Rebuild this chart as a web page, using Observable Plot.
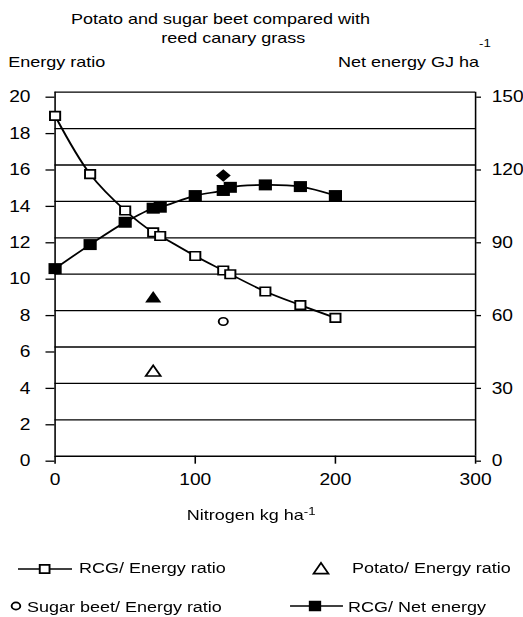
<!DOCTYPE html>
<html><head><meta charset="utf-8">
<script src="https://cdn.jsdelivr.net/npm/d3@7"></script>
<script src="https://cdn.jsdelivr.net/npm/@observablehq/plot@0.6"></script>
<style>
html,body{margin:0;padding:0;background:#fff;overflow:hidden;}
#wrap{position:relative;width:435.83px;height:617px;transform:scaleX(1.2);transform-origin:0 0;font-family:"Liberation Sans",Arial,sans-serif;color:#000;}
#wrap svg{position:absolute;left:0;}
.t{position:absolute;white-space:nowrap;line-height:1;font-size:15px;}
</style></head><body>
<div id="wrap"></div>
<script>
// ---- data ----
const nitrogen = [0, 25, 50, 70, 75, 100, 120, 125, 150, 175, 200];
const rcgEnergyRatio = [18.7, 15.5, 13.5, 12.3, 12.1, 11.0, 10.2, 10.0, 9.05, 8.3, 7.6];
const rcgNetEnergy = [77.3, 87.2, 96.4, 102.2, 102.6, 107.4, 109.5, 110.8, 111.8, 111.1, 107.4];
const potatoNitrogen = [70];
const potatoEnergyRatio = [4.6];
const potatoNetEnergy = [64.9];
const sugarBeetNitrogen = [120];
const sugarBeetEnergyRatio = [7.4];
const sugarBeetNetEnergy = [115.7];
const leftTicks = [0, 2, 4, 6, 8, 10, 12, 14, 16, 18, 20];
const rightTicks = [0, 30, 60, 90, 120, 150];
const xTicks = [0, 100, 200, 300];
const rightMax = 150, leftMax = 20;
const k = rightMax / leftMax; // net energy units per energy-ratio unit

const rcg = nitrogen.map((n, i) => ({n, ratio: rcgEnergyRatio[i], net: rcgNetEnergy[i]}));
const potato = potatoNitrogen.map((n, i) => ({n, ratio: potatoEnergyRatio[i], net: potatoNetEnergy[i]}));
const beet = sugarBeetNitrogen.map((n, i) => ({n, ratio: sugarBeetEnergyRatio[i], net: sugarBeetNetEnergy[i]}));

const wrap = document.getElementById("wrap");
const FONT = '"Liberation Sans", Arial, sans-serif';

const chart = Plot.plot({
  width: 435.83,
  height: 500,
  marginTop: 91.7,
  marginBottom: 44.3,
  marginLeft: 45.4,
  marginRight: 40,
  style: {fontFamily: FONT, fontSize: "16px", color: "#000", background: "white"},
  x: {domain: [0, 300]},
  y: {domain: [0, leftMax]},
  marks: [
    Plot.ruleY(leftTicks.filter(d => d > 0), {stroke: "#000", strokeWidth: 1.3}),
    Plot.ruleY([0], {stroke: "#000", strokeWidth: 1.4}),
    Plot.ruleX([0, 300], {stroke: "#000", strokeWidth: 1.3}),
    Plot.axisY(leftTicks, {anchor: "left", tickSize: 7.5, tickPadding: 13, dy: 5, label: null, fontSize: 16, strokeWidth: 1.3}),
    Plot.axisY(rightTicks.map(v => v / k), {anchor: "right", tickSize: 4, tickPadding: 9.4, dy: 5, label: null, tickFormat: d => Math.round(d * k), fontSize: 16, strokeWidth: 1.3}),
    Plot.axisX(xTicks, {anchor: "bottom", tickSize: 8, tickPadding: 9.3, label: null, fontSize: 16, strokeWidth: 1.3}),
    Plot.line(rcg, {x: "n", y: "ratio", curve: "catmull-rom", stroke: "#000", strokeWidth: 1.7}),
    Plot.line(rcg, {x: "n", y: d => d.net / k, curve: "catmull-rom", stroke: "#000", strokeWidth: 1.7}),
    Plot.dot(rcg, {x: "n", y: "ratio", symbol: "square", r: 4.8, fill: "white", stroke: "#000", strokeWidth: 1.6}),
    Plot.dot(rcg, {x: "n", y: d => d.net / k, symbol: "square", r: 6.2, fill: "#000", stroke: "none"}),
    Plot.dot(potato, {x: "n", y: "ratio", symbol: "triangle", r: 4.6, fill: "white", stroke: "#000", strokeWidth: 1.6}),
    Plot.dot(potato, {x: "n", y: d => d.net / k, symbol: "triangle", r: 5.0, fill: "#000", stroke: "none"}),
    Plot.dot(beet, {x: "n", y: "ratio", symbol: "circle", r: 3.8, fill: "white", stroke: "#000", strokeWidth: 1.6}),
    Plot.dot(beet, {x: "n", y: d => d.net / k, symbol: "diamond2", r: 5.6, fill: "#000", stroke: "none"})
  ]
});
chart.style.top = "0px";
wrap.appendChild(chart);

function addText(html, x, baseline, fs = 15, anchor = "start") {
  const d = document.createElement("div");
  d.className = "t";
  d.style.fontSize = fs + "px";
  d.style.top = (baseline - 0.8465 * fs) + "px";
  d.style.left = x + "px";
  if (anchor === "middle") d.style.transform = "translateX(-50%)";
  if (anchor === "end") d.style.transform = "translateX(-100%)";
  d.innerHTML = html;
  wrap.appendChild(d);
}
addText("Potato and sugar beet compared with", 183.75, 24, 15, "middle");
addText("reed canary grass", 194.4, 42.4, 15, "middle");
addText("Energy ratio", 6.9, 66.4, 15);
addText('Net energy GJ ha<span style="font-size:11px;position:relative;top:-20px">-1</span>', 281.7, 66.4, 15);
addText('Nitrogen kg ha<span style="font-size:11px;position:relative;top:-5px">-1</span>', 155.6, 520, 15);

// ---- legend ----
const leg = d3.create("svg").attr("width", 435.83).attr("height", 72)
  .style("top", "545px").style("font-family", FONT).style("font-size", "15px");
const sym = (type, r) => d3.symbol(type, r * r * Math.PI)();
function swatchLine(x1, x2, y) {
  leg.append("line").attr("x1", x1).attr("x2", x2).attr("y1", y).attr("y2", y)
    .attr("stroke", "#000").attr("stroke-width", 1.7);
}
function swatchSym(type, r, x, y, filled) {
  leg.append("path").attr("d", sym(type, r)).attr("transform", `translate(${x},${y})`)
    .attr("fill", filled ? "#000" : "white").attr("stroke", filled ? "none" : "#000").attr("stroke-width", 1.6);
}
function label(txt, x, y) { leg.append("text").attr("x", x).attr("y", y).text(txt); }
swatchLine(15, 60, 24); swatchSym(d3.symbolSquare, 4.6, 37.2, 24, false); label("RCG/ Energy ratio", 65.8, 28.5);
swatchSym(d3.symbolTriangle, 4.6, 267.5, 25, false); label("Potato/ Energy ratio", 293.3, 28.5);
leg.append("circle").attr("cx", 13.3).attr("cy", 61).attr("r", 3.6).attr("fill", "white").attr("stroke", "#000").attr("stroke-width", 1.6);
label("Sugar beet/ Energy ratio", 22.5, 67.4);
swatchLine(241.7, 285.8, 61); swatchSym(d3.symbolSquare, 5.8, 262.5, 61, true); label("RCG/ Net energy", 290, 67.4);
wrap.appendChild(leg.node());
</script>
</body></html>
